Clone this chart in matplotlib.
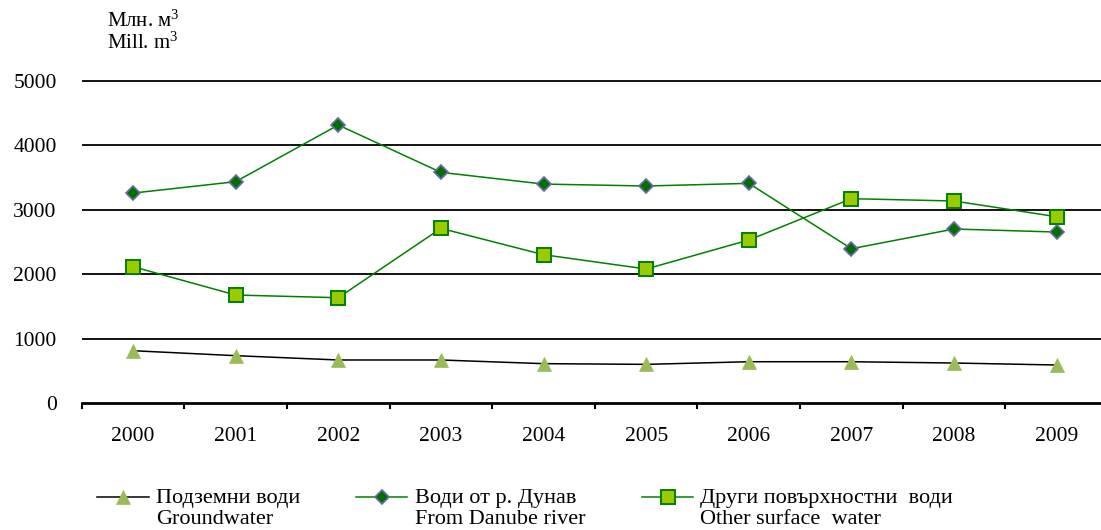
import matplotlib
matplotlib.use("Agg")
import matplotlib.pyplot as plt
from matplotlib.lines import Line2D
import numpy as np

plt.rcParams['font.family'] = ['Liberation Serif', 'DejaVu Serif']
plt.rcParams['mathtext.fontset'] = 'custom'
plt.rcParams['mathtext.rm'] = 'Liberation Serif'
plt.rcParams['mathtext.it'] = 'Liberation Serif:italic'
plt.rcParams['mathtext.bf'] = 'Liberation Serif:bold'

years = ['2000', '2001', '2002', '2003', '2004', '2005', '2006', '2007', '2008', '2009']
groundwater = [812, 735, 668, 668, 611, 600, 641, 641, 621, 590]
danube = [3260, 3437, 4317, 3582, 3400, 3370, 3411, 2396, 2702, 2655]
other_surface = [2117, 1677, 1635, 2712, 2303, 2081, 2531, 3173, 3137, 2893]
yticks = [0, 1000, 2000, 3000, 4000, 5000]

labels_bg = ['Подземни води', 'Води от р. Дунав', 'Други повърхностни  води']
labels_en = ['Groundwater', 'From Danube river', 'Other surface  water']

W, H = 1101, 530
fig = plt.figure(figsize=(W / 100, H / 100), dpi=100)
ax = fig.add_axes([81.7 / W, 1 - 403 / H, (1108 - 81.7) / W, (403 - 74.6) / H])

x = np.arange(len(years))

style_ground = dict(color='black', lw=1.1, marker='^', markersize=10.5,
                    markerfacecolor='#9bbb59', markeredgecolor='#9bbb59', markeredgewidth=0.5)
style_danube = dict(color='#008000', lw=1.1, marker='D', markersize=7.5,
                    markerfacecolor='#007000', markeredgecolor='#6a6aa8', markeredgewidth=1.2)
style_other = dict(color='#008000', lw=1.1, marker='s', markersize=10.5,
                   markerfacecolor='#99cc00', markeredgecolor='#008000', markeredgewidth=1.4)

ax.plot(x, groundwater, **style_ground, zorder=3)
ax.plot(x, danube, **style_danube, zorder=4)
ax.plot(x, other_surface, **style_other, zorder=4)

ax.set_xlim(-0.5, len(years) - 0.5)
ax.set_ylim(0, 5100)
ax.set_yticks(yticks)
ax.set_yticklabels([str(v) for v in yticks], fontsize=15.5)
for v in yticks[1:]:
    ax.axhline(v, color='black', lw=1.3, zorder=1)

ax.set_xticks(x)
ax.set_xticklabels(years, fontsize=15.5)
ax.set_xticks(np.arange(len(years) + 1) - 0.5, minor=True)
ax.tick_params(axis='x', which='major', length=0, pad=17)
ax.tick_params(axis='x', which='minor', length=4, width=1.5, direction='out', color='black')
ax.tick_params(axis='y', length=0, pad=18)

for s in ['left', 'right', 'top']:
    ax.spines[s].set_visible(False)
ax.spines['bottom'].set_linewidth(2)
ax.spines['bottom'].set_color('black')

# unit label
fig.text(107 / W, 1 - 21 / H, 'Млн. м$^3$', fontsize=15, ha='left', va='center')
fig.text(107 / W, 1 - 43 / H, 'Mill. m$^3$', fontsize=15, ha='left', va='center')

# legend (manual)
leg_items = [
    (97, 149, 156, style_ground),
    (356, 407, 415, style_danube),
    (642, 693, 700, style_other),
]
for (h0, h1, tx, st), lb, le in zip(leg_items, labels_bg, labels_en):
    yy = 1 - 497 / H
    fig.add_artist(Line2D([h0 / W, h1 / W], [yy, yy], transform=fig.transFigure,
                          color=st['color'], lw=st['lw']))
    fig.add_artist(Line2D([(h0 + h1) / 2 / W], [yy], transform=fig.transFigure,
                          linestyle='none', marker=st['marker'], markersize=st['markersize'],
                          markerfacecolor=st['markerfacecolor'],
                          markeredgecolor=st['markeredgecolor'],
                          markeredgewidth=st['markeredgewidth']))
    fig.text(tx / W, 1 - 499 / H, lb, fontsize=16, ha='left', va='center')
    fig.text(tx / W, 1 - 520 / H, le, fontsize=16, ha='left', va='center')

fig.savefig('out.png', dpi=100)
